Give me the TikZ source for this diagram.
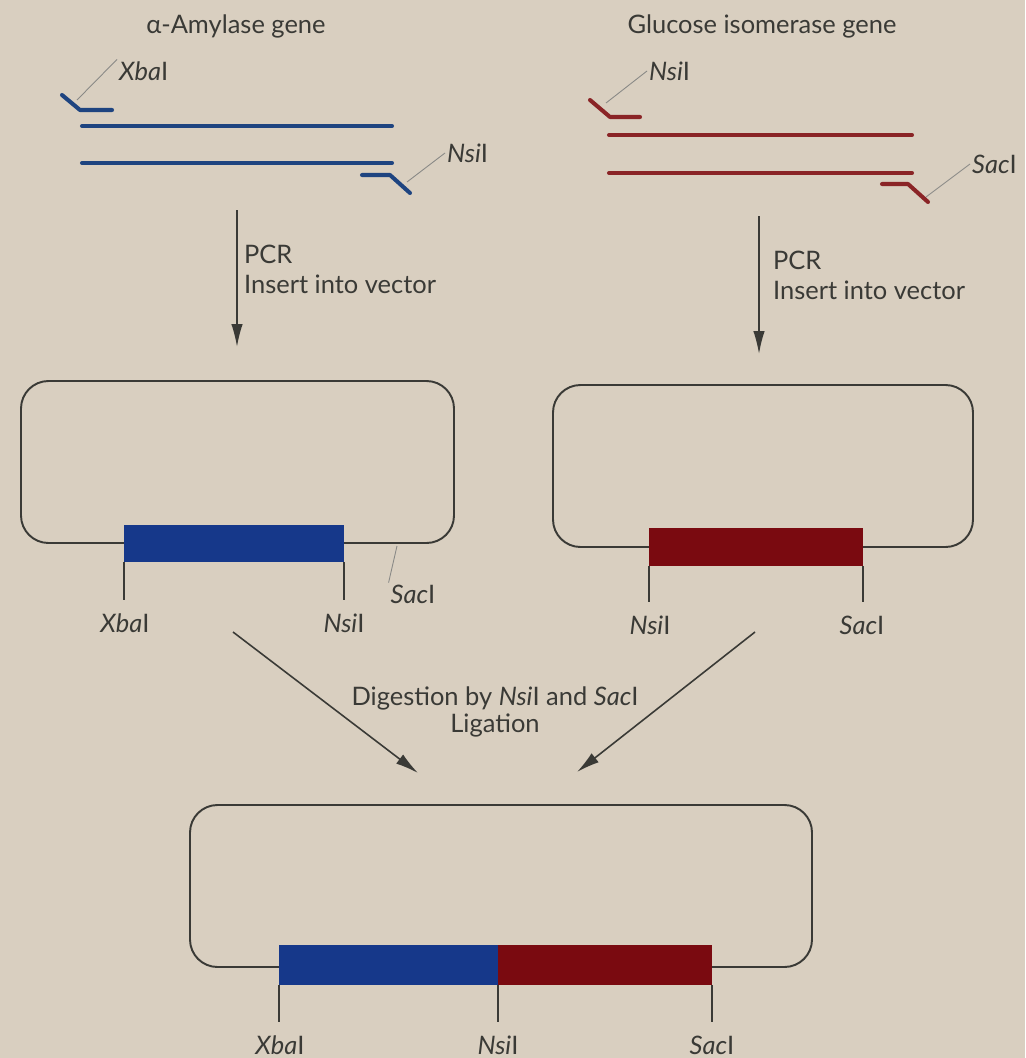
\documentclass[tikz,border=0pt]{standalone}
\usepackage{fontspec}
\setmainfont{Lato}
\usetikzlibrary{arrows.meta}

\definecolor{paper}{RGB}{217,207,192}
\definecolor{ink}{RGB}{58,58,54}
\definecolor{amyblue}{RGB}{30,68,128}
\definecolor{amybar}{RGB}{22,56,138}
\definecolor{isored}{RGB}{138,36,38}
\definecolor{isobar}{RGB}{122,10,16}

% restriction enzyme names: italic genus part, upright numeral
\newcommand{\enz}[1]{\textit{#1}I}

\begin{document}
\begin{tikzpicture}[
    x=0.02cm, y=-0.02cm,
    font=\fontsize{14.5}{17}\selectfont,
    lbl/.style={text=ink, inner sep=1pt},
    strand/.style={line width=2.3pt, line cap=round, line join=round},
    leader/.style={ink!60, line width=0.5pt},
    flow/.style={ink, line width=0.9pt, -{Latex[length=4.6mm, width=2.3mm]}},
    vector/.style={ink, line width=1.1pt, rounded corners=0.55cm},
    site/.style={ink, line width=0.6pt},
]

% Paper
\fill[paper] (0,0) rectangle (1025,1058);
\useasboundingbox (0,0) rectangle (1025,1058);

% Titles
\node[lbl] (amytitle) at (236,26) {α-Amylase gene};
\node[lbl] (isotitle) at (762,26) {Glucose isomerase gene};

% alpha-amylase PCR product
\draw[strand, amyblue] (62,95) -- (80,110) -- (112,110);
\draw[strand, amyblue] (82,126) -- (392,126);
\draw[strand, amyblue] (82,163) -- (392,163);
\draw[strand, amyblue] (362,175) -- (390,175) -- (410,193);
\coordinate (xbaEnd) at (77,100);
\coordinate (nsiEnd) at (407,182);
\node[lbl, anchor=west] (xbaA) at (117,71) {\enz{Xba}};
\node[lbl, anchor=west] (nsiA) at (445,153) {\enz{Nsi}};
\draw[leader] (xbaEnd) -- (xbaA.north west);
\draw[leader] (nsiEnd) -- (nsiA.west);

% glucose isomerase PCR product
\draw[strand, isored] (590,100) -- (610,117) -- (640,117);
\draw[strand, isored] (609,135) -- (912,135);
\draw[strand, isored] (609,173) -- (912,173);
\draw[strand, isored] (882,184) -- (908,184) -- (928,202);
\coordinate (nsiEndB) at (606,103);
\coordinate (sacEnd) at (926,197);
\node[lbl, anchor=west] (nsiC) at (647,71) {\enz{Nsi}};
\node[lbl, anchor=west] (sacA) at (970,164) {\enz{Sac}};
\draw[leader] (nsiEndB) -- (nsiC.west);
\draw[leader] (sacEnd) -- (sacA.west);

% PCR steps
\coordinate (pcrA) at (237,210);
\coordinate (pcrAtip) at (237,347);
\coordinate (pcrB) at (759,216);
\coordinate (pcrBtip) at (759,354);
\draw[flow] (pcrA) -- (pcrAtip);
\draw[flow] (pcrB) -- (pcrBtip);
\node[lbl, anchor=west, align=left] (stepA) at (242,269) {PCR\\Insert into vector};
\node[lbl, anchor=west, align=left] (stepB) at (771,275) {PCR\\Insert into vector};

% Vector with alpha-amylase insert
\draw[vector] (21,381) rectangle (454,543);
\fill[amybar] (124,525) rectangle (344,562);
\draw[site] (124,562) -- (124,600);
\draw[site] (344,562) -- (344,600);
\node[lbl] (xbaB) at (125,623) {\enz{Xba}};
\node[lbl] (nsiB) at (344,623) {\enz{Nsi}};
\coordinate (sacSite) at (397,546);
\node[lbl] (sacB) at (413,594) {\enz{Sac}};
\draw[leader] (sacSite) -- (sacB.north west);

% Vector with glucose isomerase insert
\draw[vector] (553,385) rectangle (973,547);
\fill[isobar] (649,528) rectangle (863,566);
\draw[site] (649,566) -- (649,602);
\draw[site] (863,566) -- (863,602);
\node[lbl] (nsiD) at (650,625) {\enz{Nsi}};
\node[lbl] (sacC) at (862,625) {\enz{Sac}};

% Digestion and ligation
\coordinate (digA) at (233,632);
\coordinate (digAtip) at (418,773);
\coordinate (digB) at (755,632);
\coordinate (digBtip) at (577,772);
\draw[flow] (digA) -- (digAtip);
\draw[flow] (digB) -- (digBtip);
\node[lbl, align=center, font=\fontsize{14.5}{15}\selectfont] (digest) at (495,712)
    {Digestion by \enz{Nsi} and \enz{Sac}\\Ligation};

% Fused construct
\draw[vector] (190,805) rectangle (812,967);
\fill[amybar] (279,945) rectangle (498,985);
\fill[isobar] (498,945) rectangle (712,985);
\draw[site] (279,985) -- (279,1022);
\draw[site] (498,985) -- (498,1022);
\draw[site] (712,985) -- (712,1022);
\node[lbl] (xbaC) at (280,1045) {\enz{Xba}};
\node[lbl] (nsiE) at (498,1045) {\enz{Nsi}};
\node[lbl] (sacD) at (712,1045) {\enz{Sac}};

\end{tikzpicture}
\end{document}
